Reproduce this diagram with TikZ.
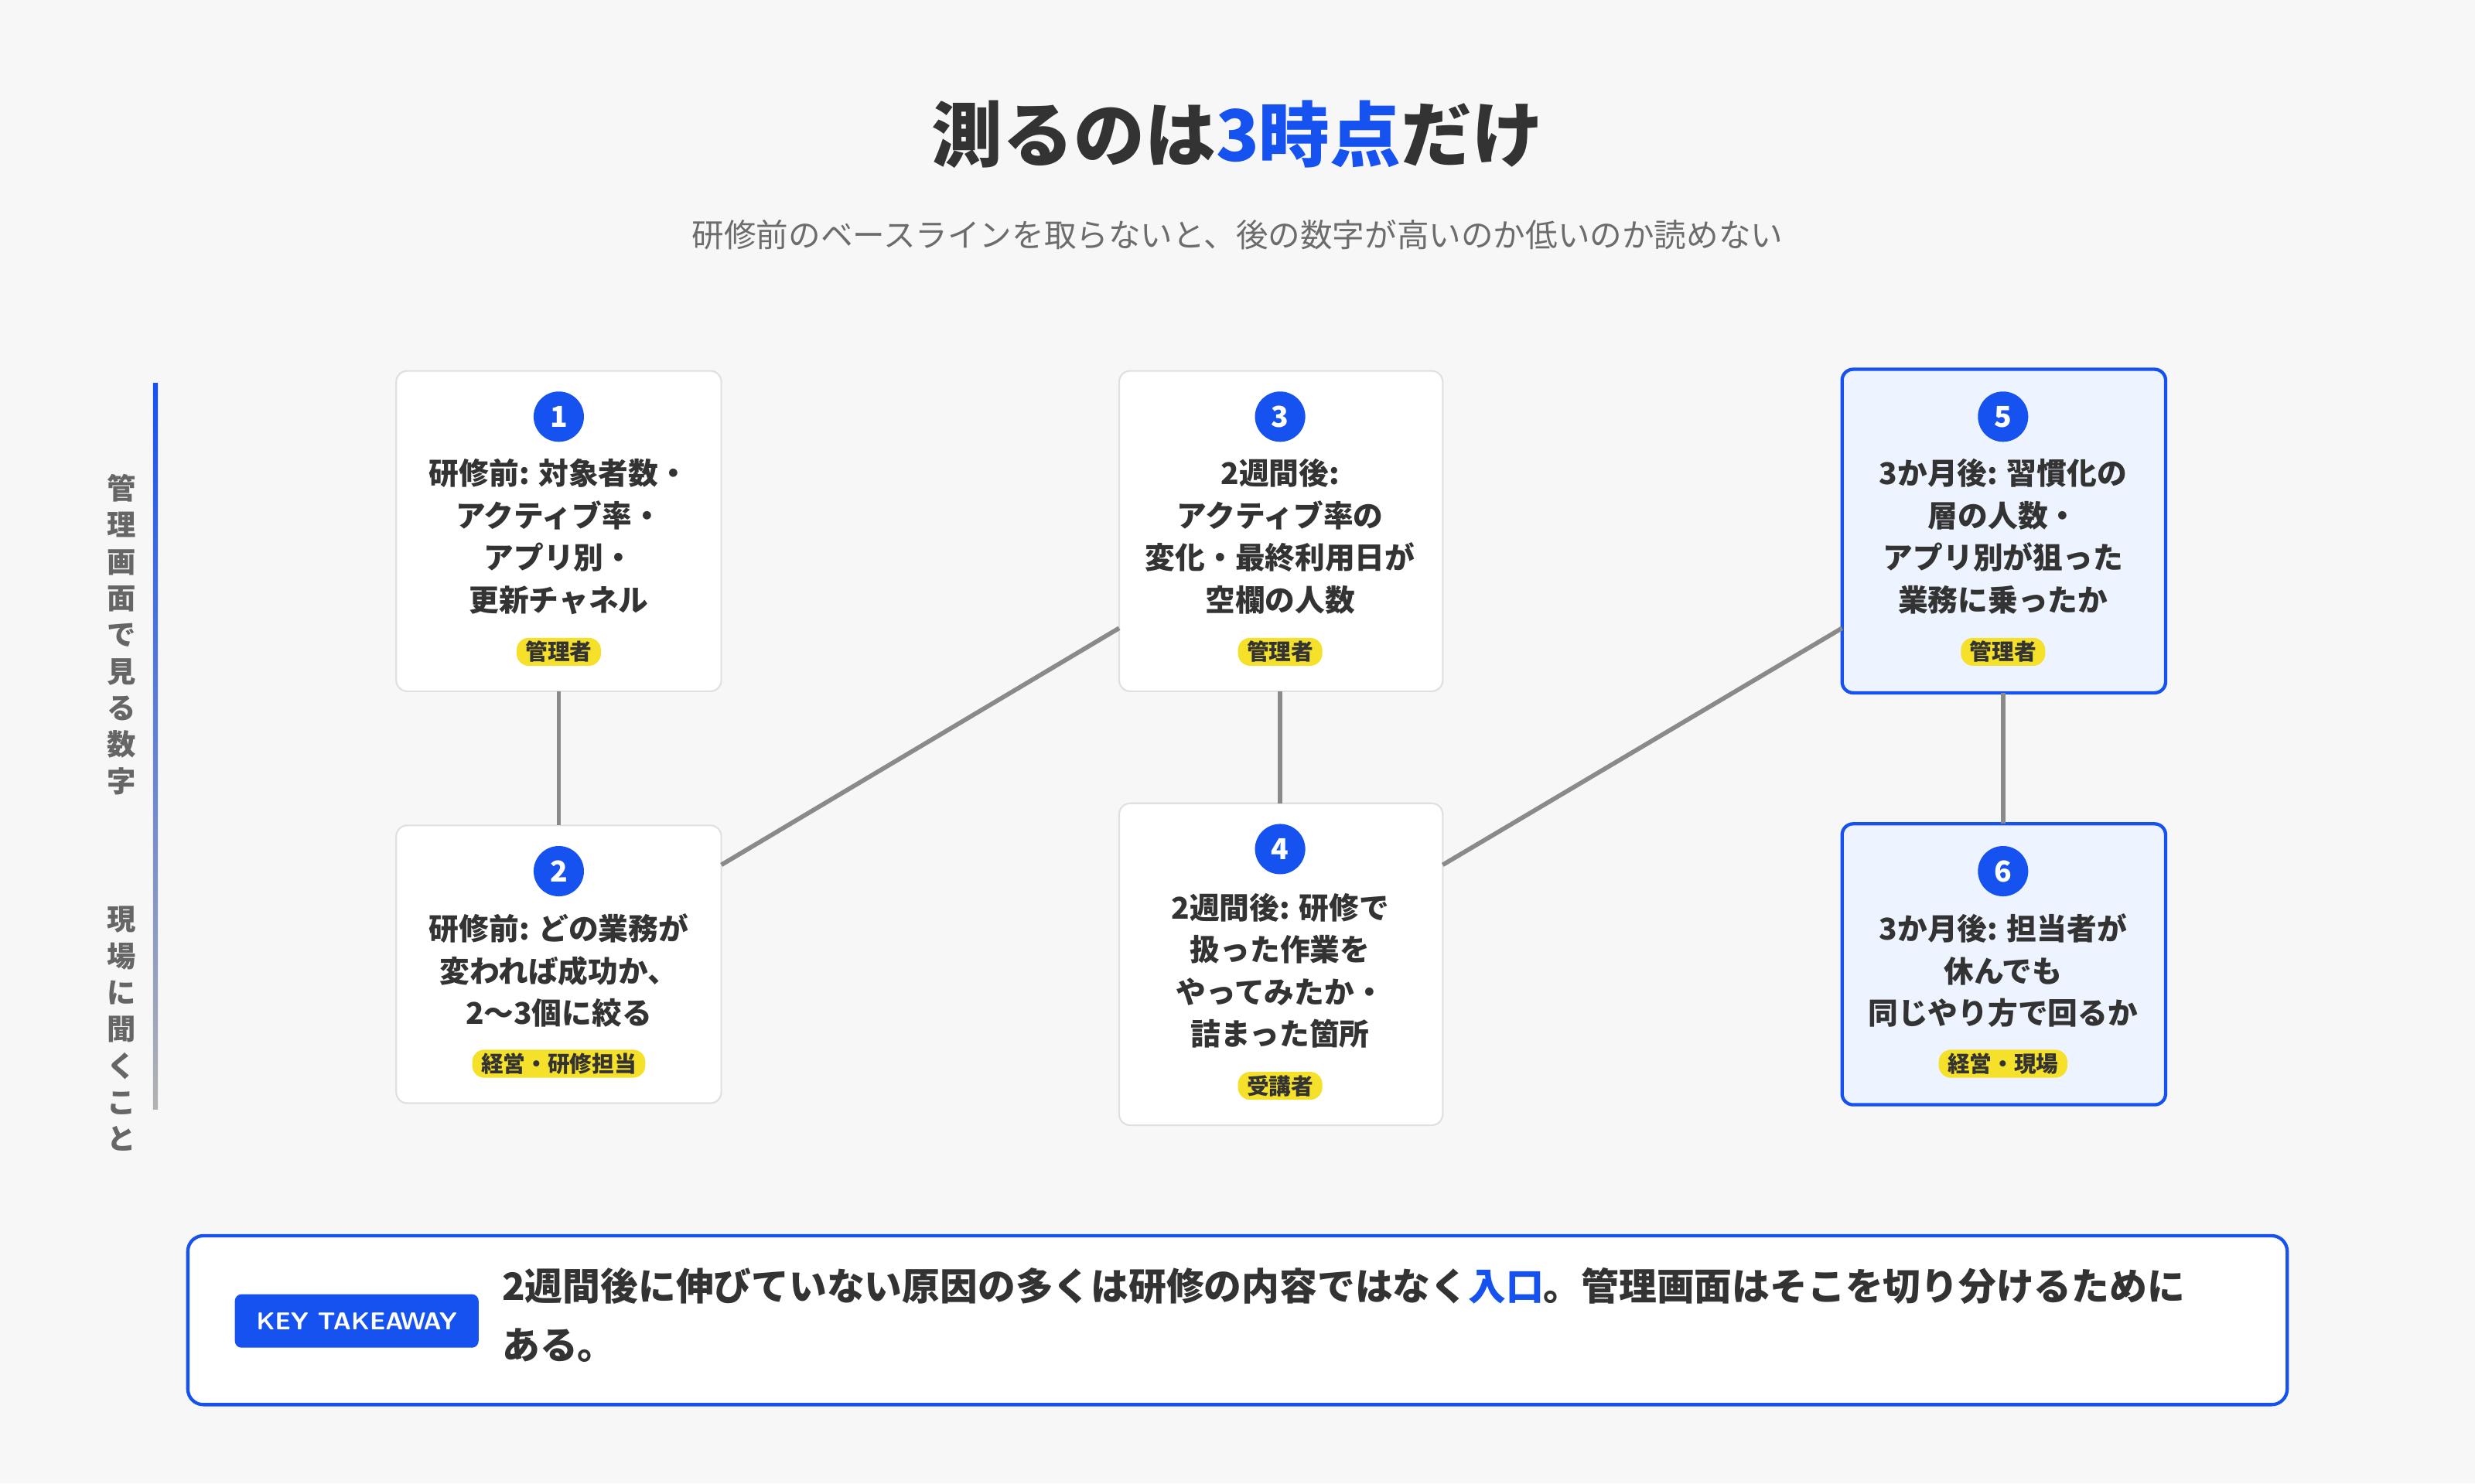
\documentclass[tikz,border=0pt]{standalone}
\usepackage{fontspec}
\setmainfont{Noto Sans CJK JP}
\newfontfamily\cjkb{Noto Sans CJK JP}[BoldFont=* Bold]
\definecolor{bl}{HTML}{1652F0}
\definecolor{tx}{HTML}{333333}
\definecolor{bg}{HTML}{F7F7F7}
\definecolor{lb}{HTML}{EEF4FF}
\definecolor{yl}{HTML}{F5E02A}
\definecolor{ln}{HTML}{8A8A8A}
\begin{document}
\begin{tikzpicture}[x=0.5mm,y=-0.5mm,
 box/.style={draw=black!12,line width=1.5pt,fill=white,rounded corners=10pt},
 hbox/.style={draw=bl,line width=3pt,fill=lb,rounded corners=10pt},
 num/.style={circle,fill=bl,text=white,minimum size=32*1.417pt,inner sep=0pt,font=\bfseries\fontsize{26}{26}\selectfont},
 txt/.style={align=center,text=tx,font=\bfseries\fontsize{27}{38}\selectfont},
 tag/.style={fill=yl,rounded corners=11pt,inner xsep=8pt,inner ysep=3pt,text=tx,font=\bfseries\fontsize{20}{22}\selectfont},
 con/.style={draw=ln,line width=4pt},
 vt/.style={align=center,text=gray!80!black,font=\bfseries\fontsize{26}{33}\selectfont}]
\fill[bg] (0,0) rectangle (1568,940);
\useasboundingbox (0,0) rectangle (1568,940);
\node[text=tx,font=\bfseries\fontsize{64}{64}\selectfont] (title) at (784,85) {測るのは\textcolor{bl}{3時点}だけ};
\node[text=gray!85!black,font=\fontsize{29}{29}\selectfont] (sub) at (784,149) {研修前のベースラインを取らないと、後の数字が高いのか低いのか読めない};
% side bar
\shade[top color=bl,bottom color=gray!60] (97,243) rectangle (100,703);
\node[vt] (v1) at (77,402) {管\\理\\画\\面\\で\\見\\る\\数\\字};
\node[vt] (v2) at (77,652) {現\\場\\に\\聞\\く\\こ\\と};
% boxes
\draw[box] (251,235) rectangle (457,438); \coordinate (b1t) at (354,235);
\draw[box] (251,523) rectangle (457,699);
\draw[box] (709,235) rectangle (914,438);
\draw[box] (709,509) rectangle (914,713);
\draw[hbox] (1167,234) rectangle (1372,439);
\draw[hbox] (1167,522) rectangle (1372,700);
\node[num] (n1) at (354,264) {1};
\node[txt] (t1) at (354,340) {研修前: 対象者数・\\アクティブ率・\\アプリ別・\\更新チャネル};
\node[tag] (g1) at (354,413) {管理者};
\node[num] (n2) at (354,552) {2};
\node[txt] (t2) at (354,615) {研修前: どの業務が\\変われば成功か、\\2〜3個に絞る};
\node[tag] (g2) at (354,674) {経営・研修担当};
\node[num] (n3) at (811,264) {3};
\node[txt] (t3) at (811,340) {2週間後:\\アクティブ率の\\変化・最終利用日が\\空欄の人数};
\node[tag] (g3) at (811,413) {管理者};
\node[num] (n4) at (811,538) {4};
\node[txt] (t4) at (811,615) {2週間後: 研修で\\扱った作業を\\やってみたか・\\詰まった箇所};
\node[tag] (g4) at (811,688) {受講者};
\node[num] (n5) at (1269,264) {5};
\node[txt] (t5) at (1269,340) {3か月後: 習慣化の\\層の人数・\\アプリ別が狙った\\業務に乗ったか};
\node[tag] (g5) at (1269,413) {管理者};
\node[num] (n6) at (1269,552) {6};
\node[txt] (t6) at (1269,615) {3か月後: 担当者が\\休んでも\\同じやり方で回るか};
\node[tag] (g6) at (1269,674) {経営・現場};
\coordinate (a1) at (354,438); \coordinate (a2) at (354,523);
\coordinate (c1) at (457,548); \coordinate (c2) at (709,398);
\coordinate (d1) at (811,438); \coordinate (d2) at (811,509);
\coordinate (e1) at (914,548); \coordinate (e2) at (1167,398);
\coordinate (f1) at (1269,439); \coordinate (f2) at (1269,522);
\draw[con] (a1)--(a2); \draw[con] (c1)--(c2); \draw[con] (d1)--(d2);
\draw[con] (e1)--(e2); \draw[con] (f1)--(f2);
% takeaway
\draw[draw=bl,line width=3pt,fill=white,rounded corners=14pt] (119,783) rectangle (1449,890);
\node[fill=bl,text=white,rounded corners=6pt,minimum width=155*1.417pt,minimum height=34*1.417pt,font=\sffamily\bfseries\fontsize{22}{22}\selectfont] (kt) at (226,837) {KEY TAKEAWAY};
\node[anchor=north west,align=left,text=tx,text width=1110*1.417pt,inner sep=0pt,font=\bfseries\fontsize{34}{53}\selectfont] (kx) at (318,803) {2週間後に伸びていない原因の多くは研修の内容ではなく\textcolor{bl}{入口}。管理画面はそこを切り分けるために\\ある。};
\end{tikzpicture}
\end{document}
